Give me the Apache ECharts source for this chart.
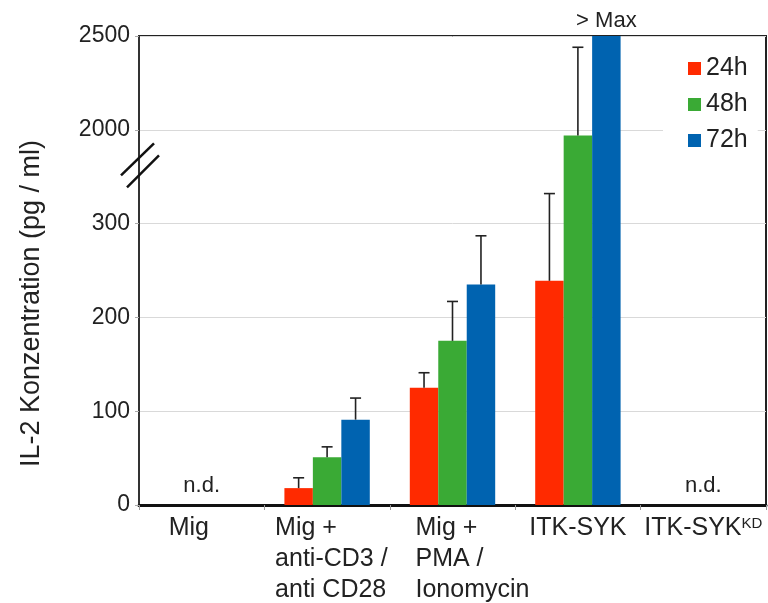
<!DOCTYPE html>
<html>
<head>
<meta charset="utf-8">
<script src="https://cdn.jsdelivr.net/npm/echarts@6/dist/echarts.min.js"></script>
<style>html,body{margin:0;padding:0;background:#fff}#c{width:768px;height:603px}</style>
</head>
<body>
<div id="c"></div>
<script>
// ---- data ----
const categoryLines = [['Mig'], ['Mig +', 'anti-CD3 /', 'anti CD28'], ['Mig +', 'PMA /', 'Ionomycin'], ['ITK-SYK'], ['ITK-SYK']];
const categorySup = ['', '', '', '', 'KD'];
const seriesNames = ['24h', '48h', '72h'];
const values24 = [0, 18, 125, 239, 0];
const values48 = [0, 51, 175, 1970, 0];
const values72 = [0, 91, 235, 2500, 0];
const err24 = [null, 11, 16, 93, null];
const err48 = [null, 11, 42, 470, null];
const err72 = [null, 23, 52, null, null];
const notDetected = [true, false, false, false, true];
const overMax = [false, false, false, true, false]; // applies to 72h
const yTickLabels = ['0', '100', '200', '300', '2000', '2500'];
const colors = ['#ff2a00', '#3aaa35', '#0063b0'];

// broken axis: lower segment linear, 2000..2500 mapped onto 400..500
function toDisplay(v) { return v < 1000 ? v : 400 + (v - 2000) / 5; }

const GRID = { left: 139, right: 2, top: 36, bottom: 92 };
const FONT = 'Liberation Sans';
const labelWidths = [66, 104, 74, 0, 0];

const rich = { s: { fontSize: 15, fontFamily: FONT, color: '#222', padding: [0, 0, 9, 0] } };
labelWidths.forEach((w, i) => {
  rich['c' + i] = { fontSize: 25, fontFamily: FONT, color: '#222', lineHeight: 31 };
  if (w) { rich['c' + i].width = w; rich['c' + i].align = 'left'; }
});

const valueSets = [values24, values48, values72];
const errSets = [err24, err48, err72];

const barSeries = valueSets.map((vals, si) => ({
  name: seriesNames[si],
  type: 'bar',
  barWidth: '22.7%',
  barGap: '0%',
  itemStyle: { color: colors[si] },
  data: vals.map((v, ci) => {
    const d = { value: toDisplay(v) };
    if (si === 1 && notDetected[ci]) {
      d.label = { show: true, position: 'top', distance: 8, formatter: 'n.d.', fontSize: 22, fontFamily: FONT, color: '#222' };
    }
    if (si === 2 && overMax[ci]) {
      d.label = { show: true, position: 'top', distance: 4, formatter: '> Max', fontSize: 22, fontFamily: FONT, color: '#222' };
    }
    return d;
  })
}));

const errSeries = errSets.map((errs, si) => ({
  type: 'custom',
  silent: true,
  z: 3,
  data: errs.map((e, ci) => e == null ? null : [ci, toDisplay(valueSets[si][ci]), toDisplay(valueSets[si][ci] + e)]).filter(d => d),
  renderItem: function (params, api) {
    const p1 = api.coord([api.value(0), api.value(1)]);
    const p2 = api.coord([api.value(0), api.value(2)]);
    const band = api.size([1, 0])[0];
    const x = p1[0] + (si - 1) * band * 0.227;
    const style = { stroke: '#222', lineWidth: 1.6 };
    return {
      type: 'group',
      children: [
        { type: 'line', shape: { x1: x, y1: p1[1], x2: x, y2: p2[1] }, style },
        { type: 'line', shape: { x1: x - 5.5, y1: p2[1], x2: x + 5.5, y2: p2[1] }, style }
      ]
    };
  }
}));

const chart = echarts.init(document.getElementById('c'));
chart.setOption({
  animation: false,
  grid: Object.assign({ show: true, borderColor: '#222', borderWidth: 2, backgroundColor: 'transparent' }, GRID),
  legend: {
    data: seriesNames,
    orient: 'vertical',
    left: 663, top: 48,
    padding: [8, 10, 10, 25],
    backgroundColor: '#fff',
    itemWidth: 13, itemHeight: 13, itemGap: 11,
    icon: 'rect',
    textStyle: { fontSize: 25, fontFamily: FONT, color: '#222' }
  },
  xAxis: {
    type: 'category',
    data: categoryLines.map(l => l.join('\n')),
    axisLine: { lineStyle: { color: '#111', width: 3 } },
    axisTick: { show: true, length: 5, lineStyle: { color: '#999' } },
    axisLabel: {
      margin: 8,
      interval: 0,
      formatter: function (val, idx) {
        const lines = categoryLines[idx].map(l => '{c' + idx + '|' + l + '}');
        if (categorySup[idx]) lines[lines.length - 1] += '{s|' + categorySup[idx] + '}';
        return lines.join('\n');
      },
      rich: rich
    }
  },
  yAxis: {
    type: 'value',
    min: 0, max: 500, interval: 100,
    name: 'IL-2 Konzentration (pg / ml)',
    nameLocation: 'middle',
    nameGap: 94,
    nameTextStyle: { fontSize: 27, fontFamily: FONT, color: '#222', padding: [0, 66, 0, 0] },
    axisLine: { show: true, lineStyle: { color: '#333', width: 2 } },
    axisTick: { show: true, length: 4, lineStyle: { color: '#aaa' } },
    axisLabel: {
      margin: 9, fontSize: 23, fontFamily: FONT, color: '#222',
      formatter: v => yTickLabels[Math.round(v / 100)]
    },
    splitLine: { lineStyle: { color: '#d9d9d9', width: 1 } }
  },
  series: barSeries.concat(errSeries)
});

// axis-break marks
const by = chart.convertToPixel({ yAxisIndex: 0 }, 362);
const bx = GRID.left + 1;
const brk = (dx1, dy1, dx2, dy2) => ({
  type: 'line', z: 100,
  shape: { x1: bx + dx1, y1: by + dy1, x2: bx + dx2, y2: by + dy2 },
  style: { stroke: '#111', lineWidth: 2.5 }
});
chart.setOption({ graphic: [brk(-19, 10, 14, -22), brk(-13, 22, 19, -10)] });
</script>
</body>
</html>
